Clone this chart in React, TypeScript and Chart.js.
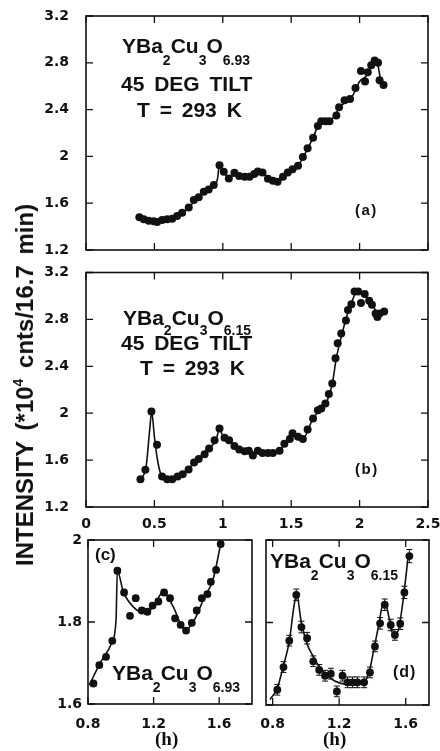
import React, { useEffect, useRef } from "react";
import { Chart, registerables } from "chart.js";

Chart.register(...registerables);

// ---------------- data ----------------
// panel (a): YBa2Cu3O6.93, 45 deg tilt, 293 K
const aX = [0.39,0.422,0.458,0.495,0.52,0.556,0.593,0.63,0.666,0.703,0.751,0.788,0.824,0.861,0.897,0.934,0.976,1.007,1.044,1.085,1.12,1.16,1.195,1.23,1.256,1.29,1.33,1.366,1.40,1.44,1.475,1.51,1.55,1.585,1.62,1.66,1.695,1.72,1.75,1.78,1.83,1.85,1.89,1.93,1.97,2.01,2.04,2.06,2.085,2.11,2.135,2.146,2.175];
const aY = [1.479,1.462,1.45,1.445,1.439,1.456,1.462,1.467,1.49,1.518,1.564,1.627,1.65,1.698,1.718,1.755,1.925,1.868,1.812,1.86,1.833,1.827,1.827,1.85,1.87,1.862,1.81,1.792,1.784,1.827,1.862,1.89,1.92,1.995,2.07,2.16,2.26,2.30,2.30,2.30,2.35,2.42,2.48,2.49,2.585,2.73,2.64,2.72,2.78,2.82,2.80,2.65,2.61];
const aFitX = [0.39,0.45,0.5,0.55,0.6,0.65,0.7,0.75,0.8,0.85,0.9,0.94,0.96,0.976,1.0,1.04,1.1,1.16,1.2,1.26,1.3,1.36,1.40,1.45,1.5,1.55,1.6,1.66,1.70,1.75,1.8,1.85,1.9,1.95,2.0,2.05,2.08,2.11,2.13,2.15,2.175];
const aFitY = [1.478,1.455,1.447,1.448,1.458,1.478,1.51,1.56,1.625,1.68,1.72,1.76,1.80,1.925,1.87,1.83,1.835,1.83,1.84,1.865,1.85,1.80,1.785,1.825,1.875,1.92,2.02,2.16,2.27,2.30,2.32,2.41,2.47,2.52,2.64,2.69,2.76,2.82,2.80,2.68,2.60];

// panel (b): YBa2Cu3O6.15, 45 deg tilt, 293 K
const bX = [0.398,0.434,0.478,0.519,0.556,0.593,0.63,0.67,0.707,0.75,0.79,0.824,0.867,0.90,0.94,0.976,1.013,1.046,1.085,1.12,1.16,1.19,1.22,1.256,1.29,1.33,1.366,1.415,1.45,1.49,1.51,1.55,1.585,1.62,1.66,1.695,1.72,1.75,1.775,1.80,1.824,1.84,1.866,1.90,1.915,1.94,1.963,1.99,2.01,2.037,2.07,2.09,2.117,2.13,2.146,2.18];
const bY = [1.437,1.517,2.014,1.73,1.46,1.437,1.437,1.46,1.48,1.52,1.58,1.61,1.65,1.70,1.77,1.87,1.79,1.77,1.72,1.69,1.675,1.68,1.64,1.68,1.66,1.66,1.66,1.68,1.74,1.78,1.83,1.80,1.78,1.86,1.955,2.025,2.04,2.083,2.163,2.254,2.468,2.596,2.68,2.79,2.88,2.93,3.037,3.037,2.94,3.017,2.96,2.924,2.85,2.82,2.85,2.867];
const bFitX = [0.40,0.44,0.465,0.48,0.50,0.52,0.55,0.60,0.65,0.70,0.80,0.90,0.95,0.975,1.0,1.05,1.1,1.2,1.3,1.4,1.45,1.51,1.55,1.59,1.65,1.70,1.76,1.80,1.83,1.87,1.91,1.95,1.98,2.02,2.06,2.10,2.14,2.18];
const bFitY = [1.43,1.55,1.85,2.01,1.80,1.62,1.47,1.43,1.44,1.47,1.59,1.70,1.77,1.86,1.81,1.76,1.72,1.67,1.655,1.665,1.73,1.84,1.80,1.79,1.93,2.02,2.10,2.25,2.47,2.67,2.84,2.97,3.04,3.02,2.97,2.91,2.85,2.87];

// panel (c): YBa2Cu3O6.93 detail
const cX = [0.833,0.869,0.910,0.948,0.979,1.02,1.056,1.091,1.128,1.162,1.194,1.229,1.264,1.30,1.331,1.365,1.398,1.433,1.463,1.494,1.528,1.549,1.581,1.609];
const cY = [1.65,1.695,1.715,1.754,1.925,1.872,1.815,1.858,1.828,1.825,1.84,1.85,1.872,1.858,1.809,1.793,1.779,1.798,1.828,1.858,1.868,1.898,1.927,1.99];
const cErr = [0.006,0.006,0.006,0.006,0.006,0.006,0.006,0.006,0.006,0.006,0.006,0.006,0.006,0.006,0.006,0.006,0.006,0.006,0.006,0.006,0.006,0.006,0.006,0.006];
const cFitX = [0.808,0.873,0.944,0.971,0.979,1.015,1.076,1.137,1.198,1.259,1.32,1.391,1.442,1.503,1.564,1.609];
const cFitY = [1.646,1.699,1.748,1.805,1.925,1.874,1.837,1.823,1.836,1.874,1.837,1.78,1.80,1.854,1.906,1.99];

// panel (d): YBa2Cu3O6.15 detail
const dX = [0.828,0.865,0.90,0.942,0.973,1.007,1.044,1.08,1.115,1.15,1.186,1.22,1.25,1.28,1.31,1.35,1.385,1.415,1.446,1.474,1.51,1.535,1.567,1.592,1.622];
const dY = [1.637,1.692,1.756,1.867,1.789,1.762,1.706,1.685,1.671,1.676,1.633,1.671,1.655,1.655,1.655,1.655,1.679,1.742,1.798,1.843,1.794,1.77,1.797,1.873,1.961];
const dErr = [0.013,0.013,0.013,0.014,0.014,0.014,0.013,0.013,0.013,0.013,0.013,0.013,0.013,0.013,0.013,0.013,0.013,0.013,0.014,0.014,0.014,0.013,0.014,0.015,0.016];
const dFitX = [0.784,0.828,0.864,0.90,0.928,0.945,0.97,1.005,1.044,1.085,1.145,1.205,1.285,1.345,1.381,1.41,1.438,1.465,1.486,1.506,1.526,1.556,1.582,1.616];
const dFitY = [1.613,1.641,1.694,1.754,1.839,1.869,1.806,1.75,1.718,1.69,1.665,1.653,1.649,1.653,1.681,1.738,1.794,1.847,1.837,1.798,1.77,1.782,1.847,1.964];

// tick values
const abYTicks = [1.2, 1.6, 2, 2.4, 2.8, 3.2];
const abXTicks = [0, 0.5, 1, 1.5, 2, 2.5];
const cdYTicks = [1.6, 1.8, 2];
const cdXTicks = [0.8, 1.2, 1.6];

// ---------------- helpers ----------------
const INK = "#111";
type Pt = { x: number; y: number };
const zip = (xs: number[], ys: number[]): Pt[] => xs.map((x, i) => ({ x, y: ys[i] }));
const fmt = (v: number) => String(Math.round(v * 10) / 10);
const TICK_FONT = { family: "'DejaVu Sans', sans-serif", weight: "bold" as const, size: 14 };

const framePlugin = {
  id: "frameTicks",
  afterDatasetsDraw(chart: any) {
    const { ctx, chartArea: a, scales } = chart;
    const len = 7;
    ctx.save();
    ctx.strokeStyle = INK;
    ctx.lineWidth = 1.3;
    ctx.beginPath();
    for (const t of scales.x.ticks) {
      const px = scales.x.getPixelForValue(t.value);
      ctx.moveTo(px, a.bottom);
      ctx.lineTo(px, a.bottom - len);
      ctx.moveTo(px, a.top);
      ctx.lineTo(px, a.top + len);
    }
    for (const t of scales.y.ticks) {
      const py = scales.y.getPixelForValue(t.value);
      ctx.moveTo(a.left, py);
      ctx.lineTo(a.left + len, py);
      ctx.moveTo(a.right, py);
      ctx.lineTo(a.right - len, py);
    }
    ctx.stroke();
    ctx.lineWidth = 1.6;
    ctx.strokeRect(a.left, a.top, a.right - a.left, a.bottom - a.top);
    ctx.restore();
  },
};

const errorBarPlugin = {
  id: "errorBars",
  afterDatasetsDraw(chart: any) {
    const { ctx } = chart;
    const ys = chart.scales.y;
    chart.data.datasets.forEach((ds: any, i: number) => {
      const errs: number[] | undefined = ds.errorBars;
      if (!errs) return;
      const meta = chart.getDatasetMeta(i);
      ctx.save();
      ctx.strokeStyle = INK;
      ctx.lineWidth = 1;
      meta.data.forEach((el: any, j: number) => {
        const v = ds.data[j].y;
        const e = errs[j];
        const t = ys.getPixelForValue(v + e);
        const b = ys.getPixelForValue(v - e);
        ctx.beginPath();
        ctx.moveTo(el.x, t);
        ctx.lineTo(el.x, b);
        ctx.moveTo(el.x - 3, t);
        ctx.lineTo(el.x + 3, t);
        ctx.moveTo(el.x - 3, b);
        ctx.lineTo(el.x + 3, b);
        ctx.stroke();
      });
      ctx.restore();
    });
  },
};

interface Panel {
  left: number; top: number; width: number; height: number;
  padTop: number; padRight: number; yWidth: number; xHeight: number;
  xMin: number; xMax: number; yMin: number; yMax: number;
  xTicks: number[]; yTicks: number[];
  showX: boolean; showY: boolean; xPad: number; yPad: number;
  points: Pt[]; fit: Pt[]; errs?: number[]; r: number;
}

function buildConfig(p: Panel): any {
  return {
    type: "scatter",
    data: {
      datasets: [
        {
          data: p.points,
          pointRadius: p.r,
          pointBackgroundColor: INK,
          pointBorderColor: INK,
          pointBorderWidth: 0,
          showLine: false,
          errorBars: p.errs,
        },
        {
          data: p.fit,
          showLine: true,
          borderColor: INK,
          borderWidth: 1.6,
          pointRadius: 0,
          cubicInterpolationMode: "monotone",
          fill: false,
        },
      ],
    },
    options: {
      responsive: false,
      animation: false,
      layout: { padding: { top: p.padTop, right: p.padRight, left: 0, bottom: 0 } },
      plugins: { legend: { display: false }, tooltip: { enabled: false } },
      scales: {
        x: {
          type: "linear",
          min: p.xMin,
          max: p.xMax,
          grid: { display: false, drawTicks: false },
          border: { display: false },
          afterBuildTicks: (s: any) => { s.ticks = p.xTicks.map((v) => ({ value: v })); },
          afterFit: (s: any) => { s.height = p.xHeight; s.paddingLeft = 0; s.paddingRight = 0; },
          ticks: {
            display: p.showX, padding: p.xPad, color: INK, font: TICK_FONT,
            autoSkip: false, maxRotation: 0, callback: (v: number) => fmt(v),
          },
        },
        y: {
          type: "linear",
          min: p.yMin,
          max: p.yMax,
          grid: { display: false, drawTicks: false },
          border: { display: false },
          afterBuildTicks: (s: any) => { s.ticks = p.yTicks.map((v) => ({ value: v })); },
          afterFit: (s: any) => { s.width = p.yWidth; s.paddingTop = 0; s.paddingBottom = 0; },
          ticks: {
            display: p.showY, padding: p.yPad, color: INK, font: TICK_FONT,
            autoSkip: false, callback: (v: number) => fmt(v),
          },
        },
      },
    },
    plugins: [framePlugin, errorBarPlugin],
  };
}

function ChartCanvas({ p }: { p: Panel }) {
  const ref = useRef<HTMLCanvasElement | null>(null);
  useEffect(() => {
    if (!ref.current) return;
    const chart = new Chart(ref.current, buildConfig(p));
    return () => chart.destroy();
  }, []);
  return (
    <canvas
      ref={ref}
      width={p.width}
      height={p.height}
      style={{ position: "absolute", left: p.left, top: p.top, width: p.width, height: p.height }}
    />
  );
}

const panels: Panel[] = [
  {
    left: 0, top: 0, width: 440, height: 262, padTop: 16, padRight: 12, yWidth: 86, xHeight: 12,
    xMin: 0, xMax: 2.5, yMin: 1.2, yMax: 3.2, xTicks: abXTicks, yTicks: abYTicks,
    showX: false, showY: true, xPad: 8, yPad: 17, points: zip(aX, aY), fit: zip(aFitX, aFitY), r: 4,
  },
  {
    left: 0, top: 262, width: 440, height: 272, padTop: 10.5, padRight: 12, yWidth: 86, xHeight: 27,
    xMin: 0, xMax: 2.5, yMin: 1.2, yMax: 3.2, xTicks: abXTicks, yTicks: abYTicks,
    showX: true, showY: true, xPad: 8.5, yPad: 17, points: zip(bX, bY), fit: zip(bFitX, bFitY), r: 4,
  },
  {
    left: 0, top: 526, width: 262, height: 225, padTop: 14, padRight: 10, yWidth: 88, xHeight: 47,
    xMin: 0.8, xMax: 1.8, yMin: 1.6, yMax: 2.0, xTicks: cdXTicks, yTicks: cdYTicks,
    showX: true, showY: true, xPad: 11.5, yPad: 6, points: zip(cX, cY), fit: zip(cFitX, cFitY), errs: cErr, r: 3.9,
  },
  {
    left: 258, top: 526, width: 182, height: 225, padTop: 14, padRight: 11, yWidth: 8, xHeight: 46,
    xMin: 0.76, xMax: 1.74, yMin: 1.6, yMax: 2.0, xTicks: cdXTicks, yTicks: cdYTicks,
    showX: true, showY: false, xPad: 10.5, yPad: 6, points: zip(dX, dY), fit: zip(dFitX, dFitY), errs: dErr, r: 3.9,
  },
];

// ---------------- text overlays ----------------
const SANS = "'Liberation Sans', Arial, sans-serif";
const SERIF = "'Liberation Serif', 'Times New Roman', serif";

function Txt(props: {
  x: number; base: number; size: number; serif?: boolean; style?: React.CSSProperties; children: React.ReactNode;
}) {
  const k = props.serif ? 0.8375 : 0.846;
  return (
    <div
      style={{
        position: "absolute",
        left: props.x,
        top: props.base - k * props.size,
        fontSize: props.size,
        lineHeight: 1,
        fontFamily: props.serif ? SERIF : SANS,
        fontWeight: "bold",
        whiteSpace: "nowrap",
        color: INK,
        ...props.style,
      }}
    >
      {props.children}
    </div>
  );
}

function Sub({ children, dy }: { children: React.ReactNode; dy: number }) {
  return <span style={{ fontSize: 14, position: "relative", top: dy }}>{children}</span>;
}

function Formula({ x, base, dy, tail }: { x: number; base: number; dy: number; tail: string }) {
  return (
    <Txt x={x} base={base} size={21}>
      YBa<Sub dy={dy}>2</Sub>Cu<Sub dy={dy}>3</Sub>O<Sub dy={dy}>{tail}</Sub>
    </Txt>
  );
}

export default function App() {
  const ws: React.CSSProperties = { wordSpacing: 4 };
  return (
    <div
      style={{
        position: "absolute", left: 0, top: 0, width: 440, height: 751,
        background: "#fff", overflow: "hidden",
      }}
    >
      {panels.map((p, i) => (
        <ChartCanvas key={i} p={p} />
      ))}

      {/* panel (a) annotations */}
      <Formula x={122} base={53} dy={12} tail="6.93" />
      <Txt x={121} base={90.5} size={21} style={ws}>45 DEG TILT</Txt>
      <Txt x={137} base={116.5} size={21} style={ws}>T = 293 K</Txt>
      <Txt x={355} base={215} size={15} style={{ letterSpacing: 1.5 }}>(a)</Txt>

      {/* panel (b) annotations */}
      <Formula x={123} base={325} dy={10} tail="6.15" />
      <Txt x={121} base={350} size={21} style={ws}>45 DEG TILT</Txt>
      <Txt x={140} base={375} size={21} style={ws}>T = 293 K</Txt>
      <Txt x={355} base={474} size={15} style={{ letterSpacing: 1.5 }}>(b)</Txt>

      {/* panel (c) annotations */}
      <Formula x={112} base={680} dy={11.5} tail="6.93" />
      <Txt x={95} base={560} size={17}>(c)</Txt>
      <Txt x={155} base={744.5} size={19} serif>(h)</Txt>

      {/* panel (d) annotations */}
      <Formula x={270} base={568} dy={12} tail="6.15" />
      <Txt x={393} base={678} size={16} style={{ letterSpacing: 1 }}>(d)</Txt>
      <Txt x={323} base={744.5} size={19} serif>(h)</Txt>

      {/* shared y-axis title */}
      <div
        style={{
          position: "absolute", left: 25, top: 385,
          transform: "translate(-50%, -50%) rotate(-90deg)",
          fontFamily: SANS, fontWeight: "bold", fontSize: 24, lineHeight: 1,
          whiteSpace: "nowrap", wordSpacing: 4, color: INK,
        }}
      >
        INTENSITY (*10<span style={{ fontSize: 14, position: "relative", top: -10 }}>4</span> cnts/16.7 min)
      </div>
    </div>
  );
}
